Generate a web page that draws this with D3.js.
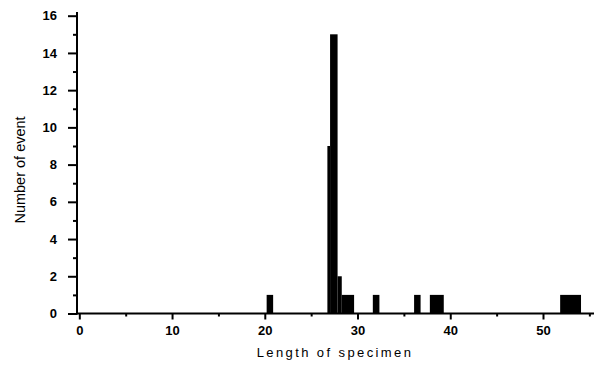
<!DOCTYPE html>
<html>
<head>
<meta charset="utf-8">
<script src="https://cdn.jsdelivr.net/npm/d3@7"></script>
<style>
  html, body { margin: 0; padding: 0; background: #fff; }
  svg { display: block; }
  .tick text { font-family: "Liberation Sans", Arial, sans-serif; font-weight: bold; font-size: 13px; fill: #000; }
</style>
</head>
<body>
<svg id="chart" width="600" height="371"></svg>
<script>
// Histogram bars
const binStart = [20.2, 26.75, 27.04, 27.85, 28.3, 31.65, 36.1, 37.8, 51.85];
const binEnd   = [20.9, 27.04, 27.85, 28.3, 29.63, 32.36, 36.8, 39.3, 54.1];
const counts   = [1, 9, 15, 2, 1, 1, 1, 1, 1];

const xMajorTicks = [0, 10, 20, 30, 40, 50];
const xMinorTicks = [5, 15, 25, 35, 45, 55];
const yMajorTicks = [0, 2, 4, 6, 8, 10, 12, 14, 16];
const yMinorTicks = [1, 3, 5, 7, 9, 11, 13, 15];

const xTitle = "Length of specimen";
const yTitle = "Number of event";

const svg = d3.select("#chart");
const mLeft = 77, mRight = 594, mTop = 12, mBottom = 313.5;

const x = d3.scaleLinear().domain([-0.25, 55.5]).range([mLeft, mRight]);
const y = d3.scaleLinear().domain([0, 16]).range([mBottom, 15.7]);

// bars
const bars = binStart.map((s, i) => ({ s, e: binEnd[i], c: counts[i] }));
svg.append("g").selectAll("rect").data(bars).join("rect")
  .attr("x", d => x(d.s))
  .attr("width", d => x(d.e) - x(d.s))
  .attr("y", d => y(d.c))
  .attr("height", d => y(0) - y(d.c))
  .attr("fill", "#000");

// x axis
const gx = svg.append("g").attr("transform", `translate(0,${mBottom})`);
gx.call(d3.axisBottom(x).tickValues(xMajorTicks).tickSize(6).tickPadding(6).tickFormat(d3.format("d")));
gx.select(".domain").remove();
gx.selectAll(".tick line").attr("stroke", "#000").attr("stroke-width", 2);
const gxm = svg.append("g").attr("transform", `translate(0,${mBottom})`);
gxm.call(d3.axisBottom(x).tickValues(xMinorTicks).tickSize(3).tickFormat(""));
gxm.select(".domain").remove();
gxm.selectAll(".tick line").attr("stroke", "#000").attr("stroke-width", 2);
svg.append("line").attr("x1", mLeft).attr("x2", mRight).attr("y1", mBottom).attr("y2", mBottom)
  .attr("stroke", "#000").attr("stroke-width", 2);

// y axis
const gy = svg.append("g").attr("transform", `translate(${mLeft},0)`);
gy.call(d3.axisLeft(y).tickValues(yMajorTicks).tickSize(9).tickPadding(11).tickFormat(d3.format("d")));
gy.select(".domain").remove();
gy.selectAll(".tick line").attr("stroke", "#000").attr("stroke-width", 2);
const gym = svg.append("g").attr("transform", `translate(${mLeft},0)`);
gym.call(d3.axisLeft(y).tickValues(yMinorTicks).tickSize(4).tickFormat(""));
gym.select(".domain").remove();
gym.selectAll(".tick line").attr("stroke", "#000").attr("stroke-width", 2);
svg.append("line").attr("x1", mLeft).attr("x2", mLeft).attr("y1", mTop).attr("y2", mBottom + 1)
  .attr("stroke", "#000").attr("stroke-width", 2);

// titles
svg.append("text")
  .attr("x", 335).attr("y", 357)
  .attr("text-anchor", "middle")
  .style("font-family", "'Liberation Sans', Arial, sans-serif")
  .style("font-size", "13px")
  .style("letter-spacing", "2.4px")
  .text(xTitle);

svg.append("text")
  .attr("transform", "translate(25,170) rotate(-90)")
  .attr("text-anchor", "middle")
  .style("font-family", "'Liberation Sans', Arial, sans-serif")
  .style("font-size", "14.5px")
  .text(yTitle);
</script>
</body>
</html>
